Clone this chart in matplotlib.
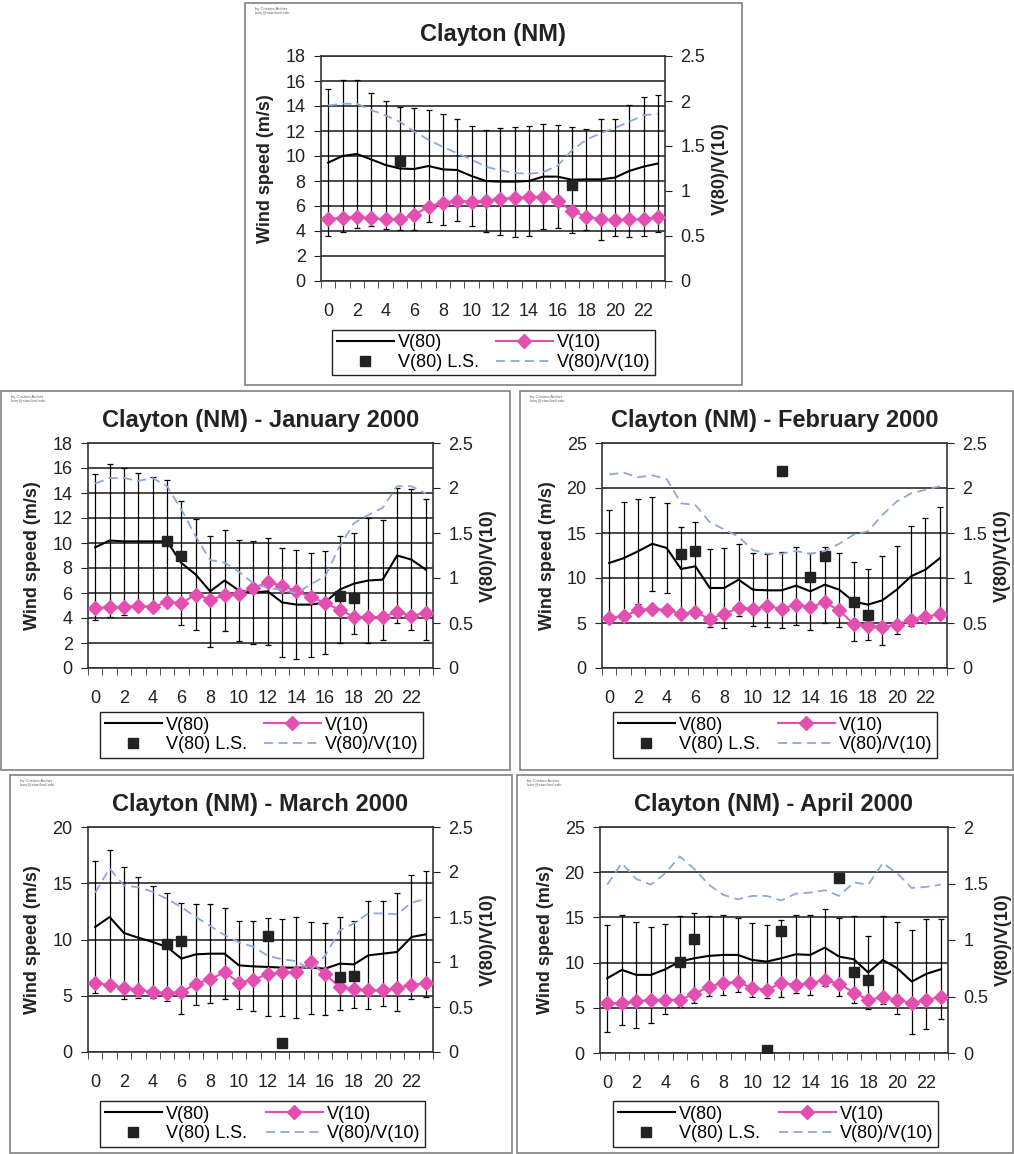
import numpy as np
import matplotlib
matplotlib.use('Agg')
import matplotlib.pyplot as plt
from matplotlib.patches import Rectangle

plt.rcParams['font.family'] = ['Liberation Sans', 'DejaVu Sans']

# ---------------- data ----------------
hours = list(range(24))
x_tick_labels = [str(h) for h in range(0, 24, 2)]
legend_labels = ['V(80)', 'V(80) L.S.', 'V(10)', 'V(80)/V(10)']

titles = ['Clayton (NM)', 'Clayton (NM) - January 2000', 'Clayton (NM) - February 2000',
          'Clayton (NM) - March 2000', 'Clayton (NM) - April 2000']

annual_v80 = [9.47, 10.0, 10.16, 9.73, 9.28, 9.0, 8.96, 9.2, 8.93, 8.88, 8.4, 8.0,
              7.95, 7.95, 8.0, 8.35, 8.35, 8.1, 8.13, 8.13, 8.27, 8.8, 9.15, 9.4]
annual_v10 = [4.93, 5.07, 5.1, 5.0, 4.93, 4.93, 5.28, 5.95, 6.27, 6.43, 6.35, 6.43,
              6.56, 6.67, 6.7, 6.75, 6.4, 5.6, 5.15, 4.93, 4.88, 4.93, 4.93, 5.1]
annual_std = [5.9, 6.1, 5.95, 5.35, 5.1, 4.9, 4.9, 4.5, 4.45, 4.05, 4.0, 4.1,
              4.25, 4.4, 4.4, 4.2, 4.1, 4.25, 4.05, 4.85, 4.7, 5.25, 5.55, 5.5]
annual_ratio = [1.95, 1.97, 1.97, 1.9, 1.84, 1.77, 1.66, 1.57, 1.49, 1.42, 1.35, 1.27,
                1.23, 1.2, 1.19, 1.21, 1.28, 1.45, 1.57, 1.64, 1.70, 1.77, 1.84, 1.86]
annual_ls_hours = [5, 17]
annual_ls = [9.63, 7.7]

jan_v80 = [9.65, 10.2, 10.13, 10.13, 10.13, 10.13, 8.4, 7.47, 6.13, 7.0, 6.2, 6.05,
           6.13, 5.25, 5.07, 5.07, 5.25, 6.27, 6.75, 7.0, 7.07, 9.0, 8.67, 7.87]
jan_v10 = [4.8, 4.88, 4.88, 4.99, 4.88, 5.25, 5.2, 5.87, 5.47, 5.81, 5.95, 6.4,
           6.85, 6.59, 6.13, 5.68, 5.2, 4.67, 4.08, 4.08, 4.08, 4.48, 4.19, 4.4]
jan_std = [5.84, 6.1, 5.9, 5.5, 5.15, 4.95, 4.93, 4.44, 4.45, 4.03, 4.03, 4.1,
           4.28, 4.33, 4.37, 4.16, 4.13, 4.27, 4.04, 5.03, 4.8, 5.4, 5.63, 5.63]
jan_ratio = [2.05, 2.11, 2.11, 2.08, 2.11, 2.02, 1.76, 1.46, 1.2, 1.17, 1.07, 0.94,
             0.89, 0.87, 0.83, 0.93, 1.02, 1.35, 1.61, 1.70, 1.78, 2.02, 2.02, 1.94]
jan_ls_hours = [5, 6, 17, 18]
jan_ls = [10.2, 8.93, 5.79, 5.6]

feb_v80 = [11.67, 12.2, 12.96, 13.8, 13.33, 11.0, 11.3, 8.89, 8.89, 9.81, 8.7, 8.63,
           8.63, 9.15, 8.52, 9.26, 8.7, 7.4, 7.04, 7.52, 8.7, 10.19, 10.93, 12.2]
feb_v10 = [5.56, 5.74, 6.41, 6.59, 6.41, 6.04, 6.22, 5.44, 6.04, 6.67, 6.59, 6.85,
           6.59, 7.04, 6.78, 7.3, 6.41, 4.89, 4.7, 4.56, 4.81, 5.37, 5.67, 6.0]
feb_std = [5.85, 6.2, 5.8, 5.24, 5.0, 4.7, 4.9, 4.35, 4.45, 3.98, 4.04, 4.02,
           4.22, 4.35, 4.3, 4.22, 4.13, 4.35, 3.94, 4.94, 4.9, 5.55, 5.74, 5.7]
feb_ratio = [2.15, 2.17, 2.12, 2.14, 2.1, 1.83, 1.81, 1.62, 1.54, 1.46, 1.31, 1.27,
             1.27, 1.30, 1.27, 1.30, 1.38, 1.48, 1.52, 1.70, 1.85, 1.94, 1.98, 2.02]
feb_ls_hours = [5, 6, 12, 14, 15, 17, 18]
feb_ls = [12.7, 12.96, 21.85, 10.11, 12.41, 7.33, 5.93]

mar_v80 = [11.11, 12.0, 10.58, 10.16, 9.78, 9.33, 8.3, 8.68, 8.74, 8.74, 7.7, 7.61,
           7.56, 7.5, 7.5, 7.5, 7.41, 7.85, 7.79, 8.59, 8.74, 8.89, 10.22, 10.46]
mar_v10 = [6.16, 5.93, 5.72, 5.54, 5.33, 5.24, 5.33, 6.07, 6.46, 7.11, 6.16, 6.43,
           6.9, 7.11, 7.11, 8.0, 6.9, 5.78, 5.63, 5.48, 5.48, 5.72, 5.93, 6.13]
mar_std = [5.9, 6.0, 5.85, 5.36, 5.0, 4.82, 4.96, 4.52, 4.41, 4.07, 3.91, 4.0,
           4.36, 4.34, 4.5, 4.1, 4.1, 4.15, 3.85, 4.79, 4.67, 5.23, 5.48, 5.6]
mar_ratio = [1.77, 2.04, 1.85, 1.83, 1.78, 1.70, 1.61, 1.50, 1.40, 1.30, 1.22, 1.17,
             1.07, 1.03, 1.01, 0.91, 1.07, 1.35, 1.43, 1.54, 1.54, 1.53, 1.66, 1.70]
mar_ls_hours = [5, 6, 12, 13, 17, 18]
mar_ls = [9.63, 9.87, 10.28, 0.8, 6.67, 6.73]

apr_v80 = [8.27, 9.19, 8.64, 8.64, 9.26, 10.11, 10.48, 10.74, 10.85, 10.85, 10.29, 10.11,
           10.48, 10.92, 10.85, 11.65, 10.66, 10.37, 8.9, 10.29, 9.38, 7.9, 8.75, 9.26]
apr_v10 = [5.51, 5.51, 5.7, 5.88, 5.88, 5.88, 6.54, 7.35, 7.72, 7.9, 7.17, 6.99,
           7.72, 7.54, 7.72, 8.09, 7.65, 6.69, 5.88, 6.18, 5.88, 5.51, 5.88, 6.18]
apr_std = [5.94, 6.1, 5.83, 5.27, 5.0, 5.0, 4.96, 4.4, 4.45, 4.08, 4.04, 4.0,
           4.28, 4.3, 4.4, 4.23, 4.32, 4.82, 3.99, 4.91, 5.11, 5.75, 6.07, 5.55]
apr_ratio = [1.49, 1.68, 1.54, 1.49, 1.59, 1.74, 1.63, 1.49, 1.40, 1.36, 1.39, 1.39,
             1.35, 1.41, 1.42, 1.44, 1.39, 1.51, 1.49, 1.68, 1.59, 1.46, 1.47, 1.49]
apr_ls_hours = [5, 6, 11, 12, 16, 17, 18]
apr_ls = [10.11, 12.57, 0.37, 13.53, 19.41, 9.01, 8.09]

# axis ranges (left max, left step, right max)
left_max = [18, 18, 25, 20, 25]
left_step = [2, 2, 5, 5, 5]
right_max = [2.5, 2.5, 2.5, 2.5, 2.0]

series = [
    (annual_v80, annual_v10, annual_std, annual_ratio, annual_ls_hours, annual_ls),
    (jan_v80, jan_v10, jan_std, jan_ratio, jan_ls_hours, jan_ls),
    (feb_v80, feb_v10, feb_std, feb_ratio, feb_ls_hours, feb_ls),
    (mar_v80, mar_v10, mar_std, mar_ratio, mar_ls_hours, mar_ls),
    (apr_v80, apr_v10, apr_std, apr_ratio, apr_ls_hours, apr_ls),
]

# ---------------- layout (pixels) ----------------
W, H = 1014, 1154
layouts = [
    dict(border=(245, 3, 742, 385), plot=(321, 56, 665, 281), legend=(332, 325, 655, 380)),
    dict(border=(1, 391, 510, 770), plot=(88, 443, 433, 668), legend=(100, 712, 423, 758)),
    dict(border=(520, 391, 1013, 770), plot=(602, 443, 947, 668), legend=(613, 712, 937, 758)),
    dict(border=(10, 775, 512, 1153), plot=(88, 827, 433, 1052), legend=(100, 1097, 425, 1151)),
    dict(border=(517, 775, 1013, 1153), plot=(600, 827, 948, 1053), legend=(613, 1097, 938, 1151)),
]

PINK = '#e34fb0'
RATIO_C = '#8ea8d8'
GRID_C = '#3a3a3a'

fig = plt.figure(figsize=(W / 100, H / 100), dpi=100)


def frac(x0, y0, x1, y1):
    return [x0 / W, 1 - y1 / H, (x1 - x0) / W, (y1 - y0) / H]


for i, lay in enumerate(layouts):
    v80, v10, std, ratio, ls_h, ls_v = series[i]
    bx0, by0, bx1, by1 = lay['border']
    fig.patches.append(Rectangle((bx0 / W, 1 - by1 / H), (bx1 - bx0) / W, (by1 - by0) / H,
                                 transform=fig.transFigure, fill=False,
                                 edgecolor='#808080', lw=1.2))
    px0, py0, px1, py1 = lay['plot']
    ax = fig.add_axes(frac(*lay['plot']))
    ax.set_xlim(-0.5, 23.5)
    ax.set_ylim(0, left_max[i])
    ax.set_yticks(np.arange(0, left_max[i] + 0.01, left_step[i]))
    ax.yaxis.grid(True, color=GRID_C, lw=1.3)
    ax.set_axisbelow(True)
    ax.set_xticks(range(0, 24, 2))
    ax.set_xticklabels(x_tick_labels)
    ax.set_xticks(np.arange(-0.5, 24, 1), minor=True)
    ax.tick_params(axis='x', which='major', length=0, pad=16, labelsize=13, colors='#222')
    ax.tick_params(axis='x', which='minor', length=5, direction='out', color='#333')
    ax.tick_params(axis='y', length=5, direction='out', pad=6, labelsize=13, colors='#222')
    for s in ['left', 'bottom', 'top', 'right']:
        ax.spines[s].set_color('#333')
        ax.spines[s].set_linewidth(1.2)

    ax.errorbar(hours, v80, yerr=std, fmt='none', ecolor='black', elinewidth=0.9,
                capsize=2.5, capthick=0.9, zorder=2)
    h80, = ax.plot(hours, v80, color='black', lw=1.5, zorder=3)
    h10, = ax.plot(hours, v10, color=PINK, lw=1.5, marker='D', ms=7, zorder=4)
    hls, = ax.plot(ls_h, ls_v, ls='none', marker='s', color='#222', ms=7, zorder=5)

    ax2 = ax.twinx()
    ax2.set_ylim(0, right_max[i])
    ax2.set_yticks(np.arange(0, right_max[i] + 0.01, 0.5))
    ax2.set_yticklabels(['0', '0.5', '1', '1.5', '2', '2.5'][:len(ax2.get_yticks())])
    ax2.tick_params(axis='y', length=5, direction='out', pad=6, labelsize=13, colors='#222')
    for s in ['left', 'bottom', 'top', 'right']:
        ax2.spines[s].set_visible(False)
    hr, = ax2.plot(hours, ratio, ls=(0, (5, 3)), color=RATIO_C, lw=1.3)

    # titles and axis labels
    cx = (px0 + px1) / 2
    fig.text(cx / W, 1 - (py0 - 22) / H, titles[i], ha='center', va='center',
             fontsize=17, fontweight='bold', color='#222')
    fig.text((px0 - 55) / W, 1 - ((py0 + py1) / 2) / H, 'Wind speed (m/s)', rotation=90,
             ha='center', va='center', fontsize=13, fontweight='bold', color='#222')
    fig.text((px1 + 55) / W, 1 - ((py0 + py1) / 2) / H, 'V(80)/V(10)', rotation=90,
             ha='center', va='center', fontsize=13, fontweight='bold', color='#222')
    fig.text((bx0 + 10) / W, 1 - (by0 + 8) / H, 'by Cristina Archer\nlozej@stanford.edu',
             ha='left', va='center', fontsize=3, color='#666', linespacing=1.0)

    lx0, ly0, lx1, ly1 = lay['legend']
    leg_box = (lx0 / W, 1 - ly1 / H, (lx1 - lx0) / W, (ly1 - ly0) / H)
    leg = ax.legend([h80, hls, h10, hr], legend_labels, ncol=2, loc='center',
                    bbox_to_anchor=leg_box, bbox_transform=fig.transFigure, mode='expand',
                    frameon=True, fancybox=False, edgecolor='#222', framealpha=1,
                    borderaxespad=0, handlelength=3.2, handletextpad=0.2,
                    labelspacing=0.15, borderpad=0.25, columnspacing=1.0,
                    prop={'size': 13})
    leg.get_frame().set_linewidth(1.0)

fig.savefig('out.png', dpi=100)
